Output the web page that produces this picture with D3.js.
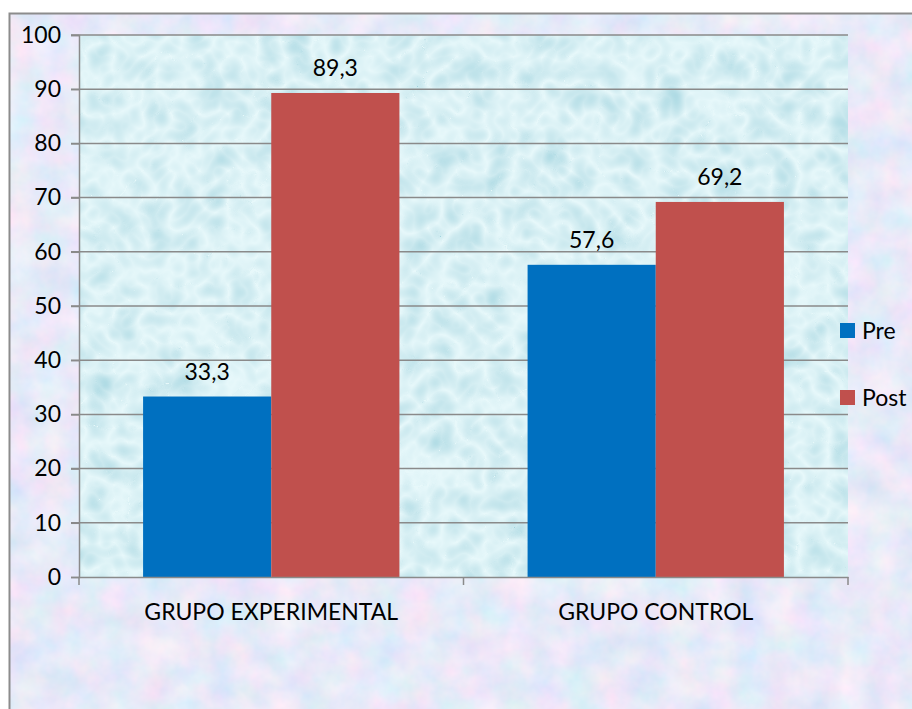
<!DOCTYPE html>
<html>
<head>
<meta charset="utf-8">
<script src="https://cdn.jsdelivr.net/npm/d3@7"></script>
<style>
  body { margin: 0; background: #fff; }
  svg { display: block; }
  text { font-family: Lato, "Open Sans", sans-serif; fill: #000; }
</style>
</head>
<body>
<div id="chart"></div>
<script>
// chart values
const groups = ["GRUPO EXPERIMENTAL", "GRUPO CONTROL"];
const series = ["Pre", "Post"];
const preValues = [33.3, 57.6];
const postValues = [89.3, 69.2];
const seriesColors = ["#0070C0", "#C0504D"];
const yTicks = [0, 10, 20, 30, 40, 50, 60, 70, 80, 90, 100];

const width = 912, height = 709;
const plot = { left: 79, top: 35, right: 848, bottom: 577 };

const svg = d3.select("#chart").append("svg")
  .attr("width", width).attr("height", height);

const defs = svg.append("defs");

// mottled pastel texture for the chart area
const outerF = defs.append("filter").attr("id", "outerTex")
  .attr("x", 0).attr("y", 0).attr("width", 1).attr("height", 1);
outerF.append("feTurbulence").attr("type", "fractalNoise")
  .attr("baseFrequency", 0.03).attr("numOctaves", 4).attr("seed", 3).attr("result", "n");
outerF.append("feColorMatrix").attr("in", "n").attr("type", "matrix")
  .attr("values", "0.45 0 0 0 0.58  0 0.2 0 0 0.72  0 0 0.12 0 0.88  0 0 0 0 1");

// water drop texture for the plot area
const innerF = defs.append("filter").attr("id", "innerTex")
  .attr("x", 0).attr("y", 0).attr("width", 1).attr("height", 1);
innerF.append("feTurbulence").attr("type", "turbulence")
  .attr("baseFrequency", 0.035).attr("numOctaves", 2).attr("seed", 7).attr("result", "n");
innerF.append("feColorMatrix").attr("in", "n").attr("type", "matrix")
  .attr("values", "-0.45 0 0 0 0.80  -0.28 0 0 0 0.94  -0.22 0 0 0 0.96  0 0 0 0 1");

// chart area
svg.append("rect")
  .attr("x", 9.5).attr("y", 13.5)
  .attr("width", width + 20).attr("height", height + 20)
  .attr("filter", "url(#outerTex)");
svg.append("rect")
  .attr("x", 9.5).attr("y", 13.5)
  .attr("width", width + 20).attr("height", height + 20)
  .attr("fill", "none").attr("stroke", "#8c8c8c").attr("stroke-width", 2);

const x0 = d3.scaleBand().domain(groups).range([plot.left, plot.right]).paddingInner(0).paddingOuter(0);
const x1 = d3.scaleBand().domain(series).range([0, x0.bandwidth()]).paddingInner(0).paddingOuter(0.5);
const y = d3.scaleLinear().domain([0, 100]).range([plot.bottom, plot.top]);

// plot area
svg.append("rect")
  .attr("x", plot.left).attr("y", plot.top)
  .attr("width", plot.right - plot.left).attr("height", plot.bottom - plot.top)
  .attr("filter", "url(#innerTex)");

// gridlines
svg.append("g").selectAll("line").data(yTicks.slice(1)).join("line")
  .attr("x1", plot.left - 8).attr("x2", plot.right)
  .attr("y1", d => y(d)).attr("y2", d => y(d))
  .attr("stroke", "#8a8a8a").attr("stroke-width", 1.5);

// bars
const rows = groups.map((g, i) => ({ group: g, values: [preValues[i], postValues[i]] }));
const gg = svg.append("g").selectAll("g").data(rows).join("g")
  .attr("transform", d => `translate(${x0(d.group)},0)`);

gg.selectAll("rect").data(d => d.values.map((v, j) => ({ s: series[j], v, j }))).join("rect")
  .attr("x", d => x1(d.s)).attr("width", x1.bandwidth())
  .attr("y", d => y(d.v)).attr("height", d => y(0) - y(d.v))
  .attr("fill", d => seriesColors[d.j]);

gg.selectAll("text").data(d => d.values.map((v, j) => ({ s: series[j], v }))).join("text")
  .attr("x", d => x1(d.s) + x1.bandwidth() / 2)
  .attr("y", d => y(d.v) - 17)
  .attr("text-anchor", "middle")
  .style("font-size", "23px")
  .text(d => d.v.toFixed(1).replace(".", ","));

// y axis
const yAxis = svg.append("g").attr("transform", `translate(${plot.left},0)`)
  .call(d3.axisLeft(y).tickValues(yTicks).tickSize(8).tickPadding(10));
yAxis.select(".domain").attr("stroke", "#8a8a8a").attr("stroke-width", 1.5);
yAxis.selectAll(".tick line").attr("stroke", "#8a8a8a").attr("stroke-width", 1.5);
yAxis.selectAll(".tick text").style("font-size", "23px").attr("fill", "#000");

// x axis
const xAxis = svg.append("g").attr("transform", `translate(0,${plot.bottom})`)
  .call(d3.axisBottom(x0).tickSize(0).tickPadding(27));
xAxis.select(".domain").attr("stroke", "#8a8a8a").attr("stroke-width", 1.5);
xAxis.selectAll(".tick text").style("font-size", "23px").attr("fill", "#000");
xAxis.selectAll(".sep").data([plot.left, x0(groups[1]), plot.right]).join("line")
  .attr("class", "sep")
  .attr("x1", d => d).attr("x2", d => d).attr("y1", 0).attr("y2", 8)
  .attr("stroke", "#8a8a8a").attr("stroke-width", 1.5);

// legend
const legend = svg.append("g").attr("transform", "translate(840,323)");
const li = legend.selectAll("g").data(series).join("g")
  .attr("transform", (d, i) => `translate(0,${i * 67})`);
li.append("rect").attr("width", 15).attr("height", 15)
  .attr("fill", (d, i) => seriesColors[i]);
li.append("text").attr("x", 22).attr("y", 16)
  .style("font-size", "23px").text(d => d);
</script>
</body>
</html>
